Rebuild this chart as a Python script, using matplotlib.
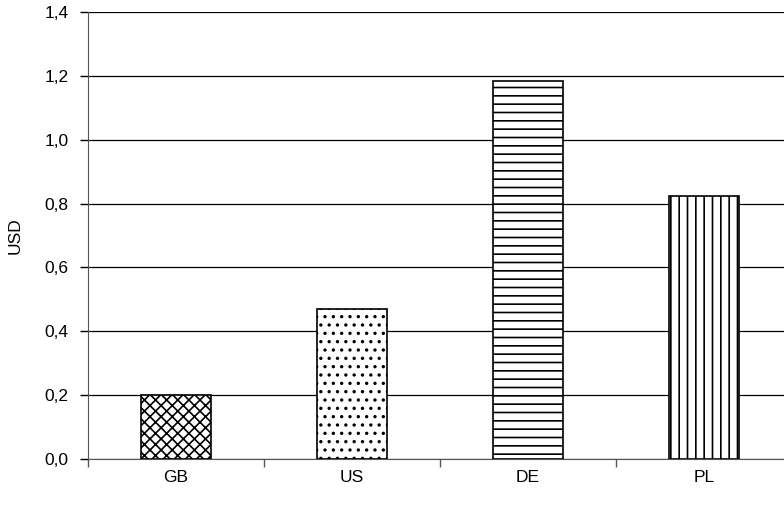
import matplotlib
matplotlib.use("Agg")
import matplotlib.pyplot as plt
from matplotlib.ticker import FuncFormatter, FixedLocator
import numpy as np

# data
countries = ["GB", "US", "DE", "PL"]
usd = [0.20, 0.47, 1.183, 0.825]
hatches = ["xxx", "..", "--", "||"]
y_ticks = [0.0, 0.2, 0.4, 0.6, 0.8, 1.0, 1.2, 1.4]

plt.rcParams["font.family"] = ["Liberation Sans", "DejaVu Sans"]
plt.rcParams["hatch.linewidth"] = 1.2
plt.rcParams["font.size"] = 12.5

fig = plt.figure(figsize=(7.84, 5.05), dpi=100)
ax = fig.add_axes([88 / 784, 46 / 505, 704 / 784, 447 / 505])

x = np.arange(len(countries))
for xi, v, h in zip(x, usd, hatches):
    ax.bar(xi, v, width=0.4, color="white", edgecolor="black",
           linewidth=1.2, hatch=h, zorder=3)

ax.set_xlim(-0.5, len(countries) - 0.5)
ax.set_ylim(0, 1.4)
ax.set_yticks(y_ticks)
ax.yaxis.set_major_formatter(FuncFormatter(lambda v, p: f"{v:.1f}".replace(".", ",")))
ax.yaxis.grid(True, color="black", linewidth=0.9, zorder=0)
ax.set_axisbelow(True)

# boundaries get tick marks, centres get the labels
ax.xaxis.set_major_locator(FixedLocator(np.arange(-0.5, len(countries), 1.0)))
ax.xaxis.set_major_formatter(FuncFormatter(lambda v, p: ""))
ax.xaxis.set_minor_locator(FixedLocator(x))
ax.set_xticklabels(countries, minor=True)
ax.tick_params(axis="x", which="minor", length=0, pad=8)
ax.tick_params(axis="x", which="major", length=6, width=1, color="#555555")
ax.tick_params(axis="y", length=6, width=1, pad=8)

for s in ["top", "right"]:
    ax.spines[s].set_visible(False)
ax.spines["left"].set_color("#555555")
ax.spines["bottom"].set_color("#555555")

ax.set_ylabel("USD", labelpad=16)

fig.savefig("out.png", dpi=100)
